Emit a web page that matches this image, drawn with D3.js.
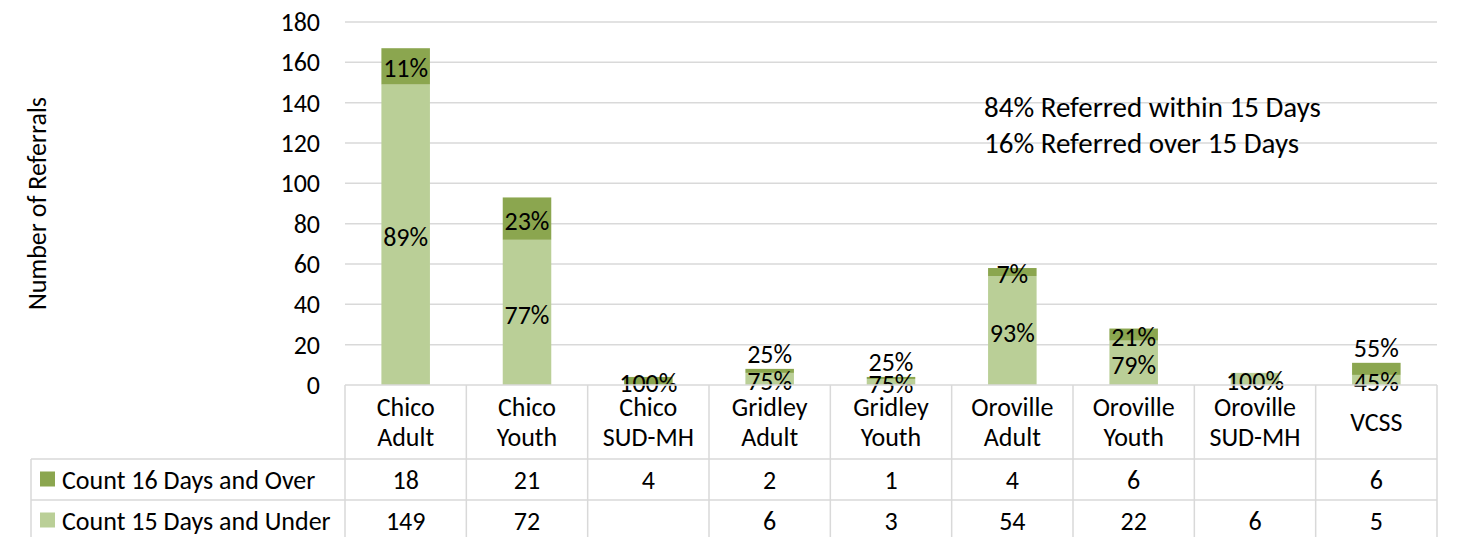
<!DOCTYPE html>
<html>
<head>
<meta charset="utf-8">
<script src="https://cdn.jsdelivr.net/npm/d3@7"></script>
<style>
  body { margin: 0; background: white; }
  svg text { font-family: Carlito, Lato, sans-serif; fill: #000; }
</style>
</head>
<body>
<svg id="chart"></svg>
<script>
// chart data
const categories = ["Chico Adult", "Chico Youth", "Chico SUD-MH", "Gridley Adult", "Gridley Youth",
    "Oroville Adult", "Oroville Youth", "Oroville SUD-MH", "VCSS"];
const over16 = [18, 21, 4, 2, 1, 4, 6, null, 6];
const under15 = [149, 72, null, 6, 3, 54, 22, 6, 5];
const seriesNames = ["Count 16 Days and Over", "Count 15 Days and Under"];
const yTicks = [0, 20, 40, 60, 80, 100, 120, 140, 160, 180];

const width = 1457, height = 537;
const plotLeft = 345, plotRight = 1437, plotTop = 22, base = 385;
const rowTop = 459, rowMid = 500, rowBottom = 541, tableLeft = 31;
const fontSize = 26;
const colors = { over: "#8ba64f", under: "#bacf97", grid: "#d9d9d9" };

let svg = d3.select("#chart").attr("width", width).attr("height", height);

let x = d3.scaleBand().domain(categories).range([plotLeft, plotRight]);
let y = d3.scaleLinear().domain([0, 180]).range([base, plotTop]);
let barW = x.bandwidth() * 0.4;

// gridlines + tick labels
svg.append("g")
    .selectAll("line")
    .data(yTicks.slice(1))
    .enter().append("line")
    .attr("x1", plotLeft).attr("x2", plotRight)
    .attr("y1", d => y(d)).attr("y2", d => y(d))
    .style("stroke", colors.grid).style("stroke-width", "1.5px");

svg.append("g")
    .selectAll("text")
    .data(yTicks)
    .enter().append("text")
    .attr("x", 320).attr("y", d => y(d)).attr("dy", "0.35em")
    .style("text-anchor", "end").style("font-size", fontSize + "px")
    .text(d => d);

svg.append("text")
    .attr("transform", "translate(37," + ((plotTop + base) / 2) + ") rotate(-90)")
    .attr("dy", "0.35em")
    .style("text-anchor", "middle").style("font-size", fontSize + "px")
    .text("Number of Referrals");

// stacked bars: light (15 and under) at the bottom, dark on top
let rows = categories.map((c, i) => ({ cat: c, under: under15[i] || 0, over: over16[i] || 0 }));
let stack = d3.stack().keys(["under", "over"])(rows);

let layers = svg.append("g").selectAll("g")
    .data(stack)
    .enter().append("g")
    .style("fill", d => colors[d.key]);

layers.selectAll("rect")
    .data(d => d.filter(s => s[1] > s[0]))
    .enter().append("rect")
    .attr("x", d => x(d.data.cat) + (x.bandwidth() - barW) / 2)
    .attr("width", barW)
    .attr("y", d => y(d[1]))
    .attr("height", d => y(d[0]) - y(d[1]));

// percentage labels, centred in each segment, top one bumped above the bar if they collide
let labels = [];
rows.forEach(r => {
    let total = r.under + r.over;
    let cx = x(r.cat) + x.bandwidth() / 2;
    let lowY = null;
    if (r.under > 0) {
        lowY = y(r.under / 2) + 2;
        labels.push({ x: cx, y: lowY, t: Math.round(100 * r.under / total) + "%" });
    }
    if (r.over > 0) {
        let hy = y(r.under + r.over / 2) + 2;
        if (lowY !== null && lowY - hy < 24) hy = y(total) - 15;
        labels.push({ x: cx, y: hy, t: Math.round(100 * r.over / total) + "%" });
    }
});

svg.append("g").selectAll("text")
    .data(labels)
    .enter().append("text")
    .attr("x", d => d.x).attr("y", d => d.y).attr("dy", "0.35em")
    .style("text-anchor", "middle").style("font-size", fontSize + "px")
    .text(d => d.t);

// overall share annotation
let sumUnder = d3.sum(under15), sumOver = d3.sum(over16);
let annot = [
    Math.round(100 * sumUnder / (sumUnder + sumOver)) + "% Referred within 15 Days",
    Math.round(100 * sumOver / (sumUnder + sumOver)) + "% Referred over 15 Days"
];
svg.append("g").selectAll("text")
    .data(annot)
    .enter().append("text")
    .attr("x", 984).attr("y", (d, i) => 107 + i * 36).attr("dy", "0.35em")
    .style("font-size", "29px")
    .text(d => d);

// data table
let table = svg.append("g").style("stroke", colors.grid).style("stroke-width", "1.5px");
table.append("line").attr("x1", plotLeft).attr("x2", plotRight).attr("y1", base).attr("y2", base);
[rowTop, rowMid].forEach(ry => {
    table.append("line").attr("x1", tableLeft).attr("x2", plotRight).attr("y1", ry).attr("y2", ry);
});
table.append("line").attr("x1", tableLeft).attr("x2", tableLeft).attr("y1", rowTop).attr("y2", rowBottom);
table.selectAll(".vline")
    .data(categories.map(c => x(c)).concat([plotRight]))
    .enter().append("line")
    .attr("class", "vline")
    .attr("x1", d => d).attr("x2", d => d)
    .attr("y1", base).attr("y2", rowBottom);

// category headers, split on the first space
let heads = svg.append("g").selectAll("text")
    .data(categories)
    .enter().append("text")
    .attr("x", d => x(d) + x.bandwidth() / 2)
    .style("text-anchor", "middle").style("font-size", fontSize + "px");
heads.each(function (d) {
    let parts = d.indexOf(" ") > 0 ? [d.slice(0, d.indexOf(" ")), d.slice(d.indexOf(" ") + 1)] : [d];
    let midY = (base + rowTop) / 2;
    d3.select(this).selectAll("tspan")
        .data(parts)
        .enter().append("tspan")
        .attr("x", x(d) + x.bandwidth() / 2)
        .attr("y", (p, i) => midY + (i - (parts.length - 1) / 2) * 30)
        .attr("dy", "0.35em")
        .text(p => p);
});

// table rows with legend keys
let tableRows = [
    { name: seriesNames[0], vals: over16, color: colors.over, y: (rowTop + rowMid) / 2 },
    { name: seriesNames[1], vals: under15, color: colors.under, y: (rowMid + rowBottom) / 2 }
];
tableRows.forEach(r => {
    svg.append("rect")
        .attr("x", 40).attr("y", r.y - 8).attr("width", 15).attr("height", 15)
        .style("fill", r.color);
    svg.append("text")
        .attr("x", 62).attr("y", r.y).attr("dy", "0.35em")
        .style("font-size", fontSize + "px")
        .text(r.name);
    svg.append("g").selectAll("text")
        .data(r.vals)
        .enter().append("text")
        .attr("x", (d, i) => x(categories[i]) + x.bandwidth() / 2)
        .attr("y", r.y).attr("dy", "0.35em")
        .style("text-anchor", "middle").style("font-size", fontSize + "px")
        .text(d => d === null ? "" : d);
});
</script>
</body>
</html>
